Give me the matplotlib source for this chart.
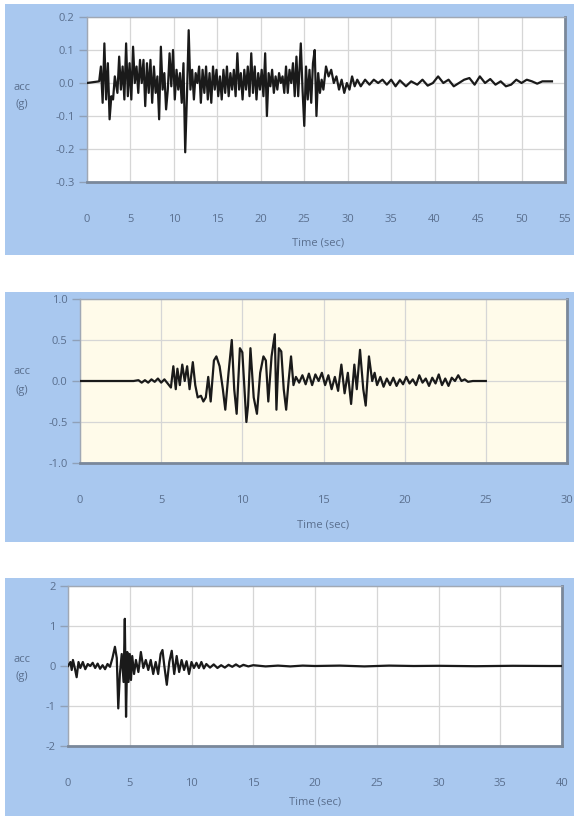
import matplotlib
matplotlib.use("Agg")
import matplotlib.pyplot as plt
from matplotlib.patches import Rectangle

# ---------------- data ----------------
t1 = [0, 1.4, 1.6, 1.8, 2.0, 2.2, 2.4, 2.6, 2.8, 3.0, 3.2, 3.5, 3.7, 3.9, 4.1, 4.3, 4.5, 4.7, 4.9, 5.1,
      5.3, 5.5, 5.7, 5.9, 6.1, 6.3, 6.5, 6.7, 6.9, 7.1, 7.3, 7.5, 7.7, 7.9, 8.1, 8.3, 8.5, 8.7, 8.9, 9.1,
      9.3, 9.5, 9.7, 9.9, 10.1, 10.3, 10.5, 10.7, 10.9, 11.1, 11.3, 11.5, 11.7, 11.9, 12.1, 12.3, 12.5, 12.7,
      12.9, 13.1, 13.3, 13.5, 13.7, 13.9, 14.1, 14.3, 14.5, 14.7, 14.9, 15.1, 15.3, 15.5, 15.7, 15.9, 16.1,
      16.3, 16.5, 16.7, 16.9, 17.1, 17.3, 17.5, 17.7, 17.9, 18.1, 18.3, 18.5, 18.7, 18.9, 19.1, 19.3, 19.5,
      19.7, 19.9, 20.1, 20.3, 20.5, 20.7, 20.9, 21.1, 21.3, 21.5, 21.7, 21.9, 22.1, 22.3, 22.5, 22.7, 22.9,
      23.1, 23.3, 23.5, 23.7, 23.9, 24.1, 24.3, 24.6, 24.8, 25.0, 25.2, 25.4, 25.6, 25.8, 26.0, 26.2, 26.4,
      26.6, 26.8, 27.0, 27.2, 27.5, 27.8, 28.1, 28.4, 28.7, 29.0, 29.3, 29.6, 29.9, 30.2, 30.5, 30.8, 31.1,
      31.5, 32.0, 32.5, 33.0, 33.5, 34.0, 34.5, 35.0, 35.5, 36.0, 36.7, 37.3, 38.0, 38.6, 39.2, 39.8, 40.4,
      41.0, 41.6, 42.2, 42.8, 43.4, 44.0, 44.6, 45.2, 45.8, 46.4, 47.0, 47.6, 48.2, 48.8, 49.4, 50.0, 50.6,
      51.2, 51.8, 52.4, 53.0, 53.5]
acc1 = [0.0, 0.005, 0.05, -0.06, 0.12, -0.05, 0.06, -0.11, -0.04, -0.05, 0.02, -0.03, 0.08, -0.02, 0.05, -0.05,
        0.12, -0.04, 0.06, -0.05, 0.11, 0.0, 0.05, -0.03, 0.07, 0.0, 0.07, -0.07, 0.06, -0.03, 0.07, -0.06,
        0.05, -0.03, 0.02, -0.11, 0.11, -0.02, 0.03, -0.08, -0.02, 0.09, -0.01, 0.10, -0.05, 0.04, -0.02,
        0.03, -0.06, 0.06, -0.21, -0.04, 0.16, -0.02, 0.04, -0.05, 0.03, 0.0, 0.05, -0.06, 0.04, -0.03, 0.05,
        -0.05, 0.03, -0.06, 0.05, -0.02, 0.04, -0.04, 0.02, -0.05, 0.04, -0.03, 0.05, -0.04, 0.03, -0.02,
        0.04, -0.04, 0.09, -0.02, 0.03, -0.05, 0.04, -0.02, 0.05, -0.04, 0.09, -0.03, 0.05, -0.05, 0.03,
        -0.02, 0.04, -0.04, 0.09, -0.10, 0.03, -0.01, 0.04, -0.03, 0.02, -0.02, 0.03, 0.0, 0.02, -0.03, 0.05,
        -0.03, 0.04, 0.0, 0.06, -0.04, 0.08, -0.04, 0.12, -0.02, -0.13, 0.05, -0.05, 0.04, -0.06, 0.06, 0.10,
        -0.10, 0.03, -0.03, 0.01, -0.02, 0.05, 0.02, 0.04, 0.0, 0.02, -0.02, 0.01, -0.03, 0.0, -0.02, 0.02,
        -0.01, 0.01, -0.01, 0.01, -0.005, 0.01, 0.0, 0.01, -0.005, 0.01, -0.01, 0.008, -0.01, 0.005, -0.005,
        0.01, -0.008, 0.0, 0.02, 0.0, 0.01, -0.01, 0.0, 0.01, 0.015, -0.005, 0.02, 0.0, 0.012, -0.005, 0.005,
        -0.01, -0.005, 0.01, 0.0, 0.01, 0.005, -0.002, 0.005, 0.005, 0.005]

t2 = [0, 3.3, 3.6, 3.8, 4.0, 4.2, 4.4, 4.6, 4.8, 5.0, 5.2, 5.4, 5.6, 5.75, 5.9, 6.0, 6.15, 6.3, 6.45, 6.6,
      6.75, 6.95, 7.1, 7.25, 7.45, 7.6, 7.75, 7.9, 8.05, 8.25, 8.4, 8.6, 8.8, 8.95, 9.15, 9.35, 9.5, 9.65,
      9.85, 10.0, 10.25, 10.35, 10.5, 10.7, 10.9, 11.1, 11.3, 11.45, 11.6, 11.8, 12.0, 12.1, 12.25, 12.4,
      12.55, 12.7, 12.85, 13.0, 13.15, 13.3, 13.5, 13.7, 13.9, 14.1, 14.3, 14.5, 14.7, 14.9, 15.1, 15.3,
      15.5, 15.7, 15.9, 16.1, 16.3, 16.5, 16.7, 16.9, 17.05, 17.25, 17.45, 17.6, 17.8, 18.0, 18.15, 18.3,
      18.5, 18.7, 18.9, 19.1, 19.3, 19.5, 19.7, 19.9, 20.1, 20.3, 20.5, 20.7, 20.9, 21.1, 21.3, 21.5, 21.7,
      21.9, 22.1, 22.3, 22.5, 22.7, 22.9, 23.1, 23.3, 23.5, 23.7, 23.9, 24.2, 25.0]
acc2 = [0.0, 0.0, 0.01, -0.02, 0.01, -0.02, 0.02, -0.01, 0.03, -0.02, 0.02, -0.03, -0.08, 0.18, -0.10, 0.15,
        -0.05, 0.20, 0.0, 0.18, -0.10, 0.23, -0.05, -0.20, -0.18, -0.25, -0.20, 0.05, -0.25, 0.25, 0.30,
        0.18, -0.10, -0.35, 0.10, 0.50, -0.10, -0.40, 0.40, 0.35, -0.50, -0.30, 0.40, -0.20, -0.40, 0.10,
        0.30, 0.25, -0.25, 0.30, 0.57, -0.35, 0.40, 0.36, -0.10, -0.35, 0.0, 0.30, -0.05, 0.05, -0.02, 0.07,
        -0.04, 0.09, -0.05, 0.08, 0.0, 0.10, -0.05, 0.07, -0.10, 0.05, -0.12, 0.20, -0.15, 0.10, -0.28, 0.20,
        -0.10, 0.38, -0.10, -0.30, 0.30, 0.0, 0.10, -0.05, 0.05, -0.07, 0.03, -0.05, 0.04, -0.06, 0.02,
        -0.04, 0.05, -0.03, 0.02, -0.05, 0.07, -0.02, 0.03, -0.06, 0.04, -0.03, 0.08, -0.05, 0.03, -0.06,
        0.04, 0.0, 0.07, 0.0, 0.02, -0.01, 0.0, 0.0]

t3 = [0, 0.2, 0.3, 0.4, 0.55, 0.7, 0.85, 1.0, 1.2, 1.4, 1.6, 1.8, 2.0, 2.2, 2.4, 2.6, 2.8, 3.0, 3.2, 3.4,
      3.6, 3.8, 3.95, 4.07, 4.2, 4.35, 4.5, 4.6, 4.7, 4.8, 4.9, 5.0, 5.1, 5.2, 5.35, 5.5, 5.7, 5.9, 6.1,
      6.3, 6.5, 6.7, 6.9, 7.1, 7.3, 7.5, 7.65, 7.8, 8.0, 8.2, 8.4, 8.6, 8.8, 9.0, 9.2, 9.4, 9.6, 9.8, 10.0,
      10.2, 10.4, 10.6, 10.8, 11.0, 11.2, 11.5, 11.8, 12.1, 12.4, 12.7, 13.0, 13.3, 13.6, 13.9, 14.2, 14.6,
      15.0, 16.0, 17.0, 18.0, 19.0, 20.0, 22.0, 24.0, 26.0, 28.0, 30.0, 33.0, 36.0, 39.0, 40.0]
acc3 = [0.0, 0.10, -0.10, 0.15, -0.05, -0.28, 0.10, -0.05, 0.10, -0.08, 0.05, 0.0, 0.08, -0.05, 0.06, -0.07,
        0.02, -0.08, 0.05, -0.02, 0.20, 0.48, 0.20, -1.06, -0.20, 0.30, -0.40, 1.18, -1.27, 0.35, -0.40,
        0.30, -0.35, 0.25, -0.20, 0.15, -0.15, 0.35, -0.05, 0.15, -0.10, 0.15, -0.20, 0.10, -0.20, 0.30,
        0.40, 0.0, -0.47, 0.10, 0.38, -0.20, 0.25, -0.15, 0.15, -0.10, 0.12, -0.20, 0.10, -0.05, 0.08,
        -0.05, 0.10, -0.06, 0.05, -0.04, 0.04, -0.05, 0.02, -0.04, 0.03, -0.02, 0.04, -0.02, 0.03, -0.01,
        0.02, -0.01, 0.01, -0.01, 0.01, 0.0, 0.01, -0.01, 0.01, 0.0, 0.005, -0.005, 0.005, 0.0, 0.0]

yticks1 = [0.2, 0.1, 0.0, -0.1, -0.2, -0.3]
ylabels1 = ["0.2", "0.1", "0.0", "-0.1", "-0.2", "-0.3"]
xticks1 = list(range(0, 56, 5))
yticks2 = [1.0, 0.5, 0.0, -0.5, -1.0]
ylabels2 = ["1.0", "0.5", "0.0", "-0.5", "-1.0"]
xticks2 = list(range(0, 31, 5))
yticks3 = [2, 1, 0, -1, -2]
ylabels3 = ["2", "1", "0", "-1", "-2"]
xticks3 = list(range(0, 41, 5))

# ---------------- style ----------------
BLUE = "#a9c8ef"
TXT = "#5a6f8e"
W, H = 574, 816
plt.rcParams["font.family"] = ["Open Sans", "DejaVu Sans"]
fig = plt.figure(figsize=(W / 100, H / 100), dpi=100, facecolor="white")


def px_rect(x0, y0, x1, y1):
    return (x0 / W, 1 - y1 / H, (x1 - x0) / W, (y1 - y0) / H)


for (x0, y0, x1, y1) in [(5, 4, 574, 255), (5, 292, 574, 542), (5, 578, 574, 816)]:
    l, b, w, h = px_rect(x0, y0, x1, y1)
    fig.patches.append(Rectangle((l, b), w, h, transform=fig.transFigure,
                                 facecolor=BLUE, edgecolor="none", zorder=-10))

panels = [
    dict(rect=(87, 17, 565, 182), t=t1, a=acc1, xt=xticks1, yt=yticks1, yl=ylabels1,
         xlim=(0, 55), ylim=(-0.3, 0.2), face="white", acc_y=(88, 104), tx=(318, 243)),
    dict(rect=(80, 299, 567, 463), t=t2, a=acc2, xt=xticks2, yt=yticks2, yl=ylabels2,
         xlim=(0, 30), ylim=(-1.0, 1.0), face="#fffbea", acc_y=(372, 390), tx=(323, 525)),
    dict(rect=(68, 586, 562, 746), t=t3, a=acc3, xt=xticks3, yt=yticks3, yl=ylabels3,
         xlim=(0, 40), ylim=(-2, 2), face="white", acc_y=(659, 677), tx=(315, 802)),
]

for p in panels:
    ax = fig.add_axes(px_rect(*p["rect"]))
    ax.set_zorder(1)
    ax.set_facecolor(p["face"])
    ax.plot(p["t"], p["a"], color="#1a1a1a", lw=1.6, zorder=3)
    ax.set_xlim(*p["xlim"])
    ax.set_ylim(*p["ylim"])
    ax.set_xticks(p["xt"])
    ax.set_xticklabels([str(v) for v in p["xt"]])
    ax.set_yticks(p["yt"])
    ax.set_yticklabels(p["yl"])
    ax.grid(True, color="#d6d6d6", lw=0.9, zorder=1)
    ax.set_axisbelow(True)
    ax.tick_params(axis="x", length=0, pad=23, labelsize=8, labelcolor=TXT)
    ax.tick_params(axis="y", length=6, width=1, color="#8fa0b8", pad=3, labelsize=8, labelcolor=TXT)
    for s in ["left", "top"]:
        ax.spines[s].set_color("#a0a8b4")
        ax.spines[s].set_linewidth(1.0)
    for s in ["bottom", "right"]:
        ax.spines[s].set_color("#7a889a")
        ax.spines[s].set_linewidth(2.0)
    fig.text(22 / W, 1 - p["acc_y"][0] / H, "acc", color=TXT, fontsize=8, ha="center", va="center")
    fig.text(22 / W, 1 - p["acc_y"][1] / H, "(g)", color=TXT, fontsize=8, ha="center", va="center")
    fig.text(p["tx"][0] / W, 1 - p["tx"][1] / H, "Time (sec)", color=TXT, fontsize=8,
             ha="center", va="center")

fig.savefig("out.png", dpi=100, facecolor="white")
